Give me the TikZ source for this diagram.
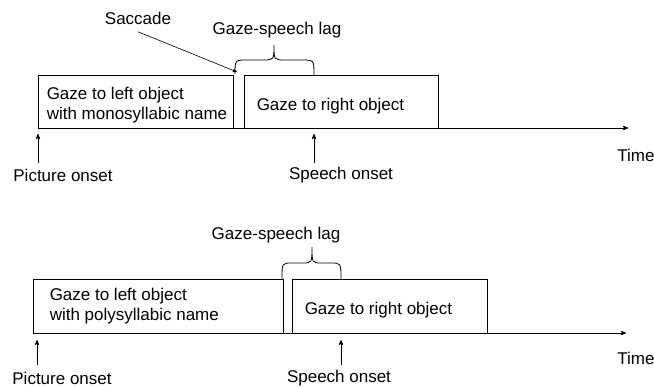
\documentclass[tikz,border=0pt]{standalone}
\usepackage{fontspec}
\setmainfont{Liberation Sans}
\usetikzlibrary{arrows,positioning}
\tikzset{
>=stealth',
  gazebox/.style={
    rectangle,
    draw=black, line width=0.9pt,
    minimum height=53pt},
  boxtext/.style={anchor=west, inner sep=0pt, align=left},
  axis/.style={draw, line width=0.8pt, ->},
  onset/.style={draw, line width=0.8pt, ->},
  bracket/.style={draw, line width=0.8pt},
}
\begin{document}
\begin{tikzpicture}
  [x=1pt, y=-1pt,
  every node/.style={font=\fontsize{17}{20}\selectfont}]
  \useasboundingbox (0,0) rectangle (654,388);

  % monosyllabic
  \node[gazebox, minimum width=195pt] (left1) at (135.5,101.5) {};
  \node[boxtext] (left1txt) at ([shift={(9,4)}]left1.west) {Gaze to left object\\with monosyllabic name};
  \node[gazebox, minimum width=194pt] (right1) at (341,101.5) {};
  \node[boxtext] (right1txt) at ([shift={(13,5)}]right1.west) {Gaze to right object};
  \coordinate (start1) at (38,128);
  \coordinate (end1) at (628,128);
  \draw[axis] (start1) -- (end1);
  \node (time1) at (636,155) {Time};
  \coordinate (pic1a) at (38,163);
  \coordinate (pic1b) at (38,134);
  \draw[onset] (pic1a) -- (pic1b);
  \node (ponset1) at (63,175) {Picture onset};
  \coordinate (sp1a) at (314,163);
  \coordinate (sp1b) at (314,134);
  \draw[onset] (sp1a) -- (sp1b);
  \node (sonset1) at (341,175) {Speech onset};
  \draw[bracket] (235,74) .. controls (235,60) .. (247,60) -- (263,60) .. controls (274,60) .. (274,45)
    .. controls (274,60) .. (285,60) -- (302,60) .. controls (314,60) .. (314,75);
  \node (lag1) at (277,30) {Gaze-speech lag};
  \node (saccade) at (138,18) {Saccade};
  \coordinate (sacc1) at (237,72);
  \draw[->, line width=0.6pt] ([yshift=-4pt]saccade.south) -- (sacc1);

  % polysyllabic
  \node[gazebox, minimum height=54pt, minimum width=250pt] (left2) at (158,306) {};
  \node[boxtext] (left2txt) at ([shift={(17,0)}]left2.west) {Gaze to left object\\with polysyllabic name};
  \node[gazebox, minimum height=54pt, minimum width=195pt] (right2) at (389.5,306) {};
  \node[boxtext] (right2txt) at ([shift={(13,4)}]right2.west) {Gaze to right object};
  \coordinate (start2) at (33,333);
  \coordinate (end2) at (626,333);
  \draw[axis] (start2) -- (end2);
  \node (time2) at (636,358) {Time};
  \coordinate (pic2a) at (37,365);
  \coordinate (pic2b) at (37,340);
  \draw[onset] (pic2a) -- (pic2b);
  \node (ponset2) at (62,378) {Picture onset};
  \coordinate (sp2a) at (341,365);
  \coordinate (sp2b) at (341,340);
  \draw[onset] (sp2a) -- (sp2b);
  \node (sonset2) at (339,378) {Speech onset};
  \draw[bracket] (282,279) .. controls (282,263) .. (292,263) -- (302,263) .. controls (312,263) .. (312,247)
    .. controls (312,263) .. (322,263) -- (331,263) .. controls (341,263) .. (341,279);
  \node (lag2) at (276,235) {Gaze-speech lag};
\end{tikzpicture}
\end{document}
